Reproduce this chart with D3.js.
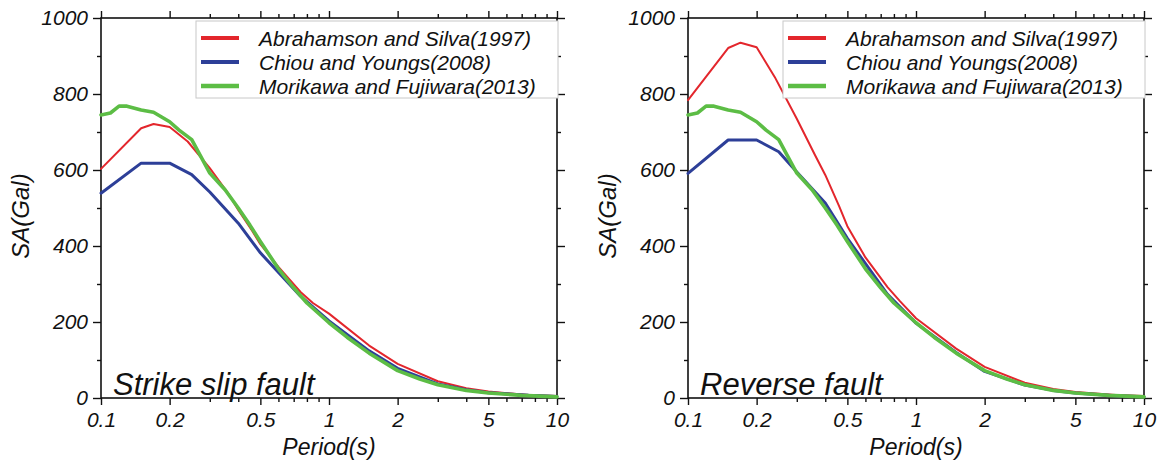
<!DOCTYPE html>
<html><head><meta charset="utf-8">
<script src="https://cdn.jsdelivr.net/npm/d3@7"></script>
<style>
body{margin:0;background:#fff}
text{font-family:"Liberation Sans",Arial,Helvetica,sans-serif;font-style:italic;fill:#111}
</style>
</head><body>
<svg id="chart" width="1165" height="466"></svg>
<script>
// ---------- data ----------
const seriesNames = ["Abrahamson and Silva(1997)", "Chiou and Youngs(2008)", "Morikawa and Fujiwara(2013)"];
const panelTitles = ["Strike slip fault", "Reverse fault"];
const xTickMajor = [0.1, 0.2, 0.5, 1, 2, 5, 10];
const xTickMinor = [0.3, 0.4, 0.6, 0.7, 0.8, 0.9, 3, 4, 6, 7, 8, 9];
const yTickMajor = [0, 200, 400, 600, 800, 1000];
const yTickMinor = [100, 300, 500, 700, 900];

const periodsAS = [0.1, 0.15, 0.17, 0.2, 0.24, 0.3, 0.36, 0.4, 0.46, 0.5, 0.6, 0.75, 0.85, 1, 1.5, 2, 3, 4, 5, 7.5, 10];
const strikeAS  = [603, 710, 721, 713, 675, 605, 540, 495, 440, 405, 345, 279, 250, 222, 138, 90, 44, 26, 17, 8, 5];
const reverseAS = [784, 921, 935, 923, 845, 735, 640, 587, 505, 452, 370, 292, 255, 210, 130, 82, 40, 24, 16, 8, 5];

const periodsCY = [0.1, 0.15, 0.2, 0.25, 0.3, 0.4, 0.5, 0.75, 1, 1.5, 2, 3, 4, 5, 7.5, 10];
const strikeCY  = [539, 618, 618, 588, 542, 460, 382, 268, 203, 124, 78, 37, 22, 14, 7, 4];
const reverseCY = [591, 679, 679, 648, 595, 513, 420, 273, 197, 120, 70, 34, 20, 13, 6, 3];

const periodsMF = [0.1, 0.11, 0.12, 0.13, 0.15, 0.17, 0.2, 0.22, 0.25, 0.3, 0.35, 0.4, 0.45, 0.5, 0.6, 0.7, 0.8, 1, 1.2, 1.5, 2, 2.5, 3, 4, 5, 7, 10];
const strikeMF  = [745, 750, 768, 768, 758, 752, 727, 705, 680, 592, 548, 500, 455, 412, 340, 290, 250, 198, 160, 118, 72, 50, 35, 20, 13, 7, 3];
const reverseMF = [745, 750, 768, 768, 758, 752, 727, 705, 680, 592, 548, 500, 455, 412, 340, 290, 250, 198, 160, 118, 72, 50, 35, 20, 13, 7, 3];

// ---------- styling ----------
const colors = ["#e3262c", "#2d3f98", "#5cbd45"];
const widths = [2, 3, 3.6];
const legendWidths = [4, 4, 4.5];

const W = 456, H = 380;
const svg = d3.select("#chart");
const x = d3.scaleLog().domain([0.1, 10]).range([0, W]);
const y = d3.scaleLinear().domain([0, 1000]).range([H, 0]);

const panels = [
  {left: 101, top: 18, title: panelTitles[0], series: [[periodsAS, strikeAS], [periodsCY, strikeCY], [periodsMF, strikeMF]]},
  {left: 688, top: 18, title: panelTitles[1], series: [[periodsAS, reverseAS], [periodsCY, reverseCY], [periodsMF, reverseMF]]}
];

const line = d3.line().x(d => x(d[0])).y(d => y(d[1]));

function styleAxis(g) {
  g.select(".domain").remove();
  g.selectAll(".tick line").attr("stroke", "#111").attr("stroke-width", 1.4);
  g.selectAll("text").style("font-size", "21px").attr("fill", "#111");
}

panels.forEach(p => {
  const g = svg.append("g").attr("transform", `translate(${p.left},${p.top})`);

  // axes: bottom
  g.append("g").attr("transform", `translate(0,${H})`)
    .call(d3.axisBottom(x).tickValues(xTickMajor).tickSize(7).tickPadding(7).tickFormat(d => String(d)))
    .call(styleAxis);
  g.append("g").attr("transform", `translate(0,${H})`)
    .call(d3.axisBottom(x).tickValues(xTickMinor).tickSize(4).tickFormat(""))
    .call(styleAxis);
  // top
  g.append("g").call(d3.axisTop(x).tickValues(xTickMajor).tickSize(7).tickFormat("")).call(styleAxis);
  g.append("g").call(d3.axisTop(x).tickValues(xTickMinor).tickSize(4).tickFormat("")).call(styleAxis);
  // left
  g.append("g")
    .call(d3.axisLeft(y).tickValues(yTickMajor).tickSize(8).tickPadding(5).tickFormat(d => String(d)))
    .call(styleAxis);
  g.append("g").call(d3.axisLeft(y).tickValues(yTickMinor).tickSize(4).tickFormat("")).call(styleAxis);
  // right
  g.append("g").attr("transform", `translate(${W},0)`)
    .call(d3.axisRight(y).tickValues(yTickMajor).tickSize(8).tickFormat("")).call(styleAxis);
  g.append("g").attr("transform", `translate(${W},0)`)
    .call(d3.axisRight(y).tickValues(yTickMinor).tickSize(4).tickFormat("")).call(styleAxis);

  // frame
  g.append("rect").attr("width", W).attr("height", H)
    .attr("fill", "none").attr("stroke", "#111").attr("stroke-width", 1.6);

  // lines
  p.series.forEach((s, i) => {
    const pts = s[0].map((t, k) => [t, s[1][k]]);
    g.append("path").datum(pts).attr("d", line)
      .attr("fill", "none").attr("stroke", colors[i]).attr("stroke-width", widths[i])
      .attr("stroke-linejoin", "round").attr("stroke-linecap", "round");
  });

  // legend
  const lg = g.append("g").attr("transform", `translate(${W - 361},3)`);
  lg.append("rect").attr("x", 0).attr("y", 0).attr("width", 362).attr("height", 77)
    .attr("fill", "#fff").attr("stroke", "#c8c8c8").attr("stroke-width", 1);
  seriesNames.forEach((n, i) => {
    const cy = 17 + i * 24;
    lg.append("line").attr("x1", 5).attr("x2", 43).attr("y1", cy).attr("y2", cy)
      .attr("stroke", colors[i]).attr("stroke-width", legendWidths[i]);
    lg.append("text").attr("x", 63).attr("y", cy + 8).style("font-size", "21px").text(n);
  });

  // panel title
  g.append("text").attr("x", 12).attr("y", H - 3).style("font-size", "31px").text(p.title);

  // axis titles
  g.append("text").attr("x", W / 2).attr("y", H + 57).attr("text-anchor", "middle")
    .style("font-size", "23px").text("Period(s)");
  g.append("text").attr("transform", `translate(-72,${H / 2 + 8}) rotate(-90)`)
    .attr("text-anchor", "middle").style("font-size", "24px").text("SA(Gal)");
});
</script>
</body></html>
